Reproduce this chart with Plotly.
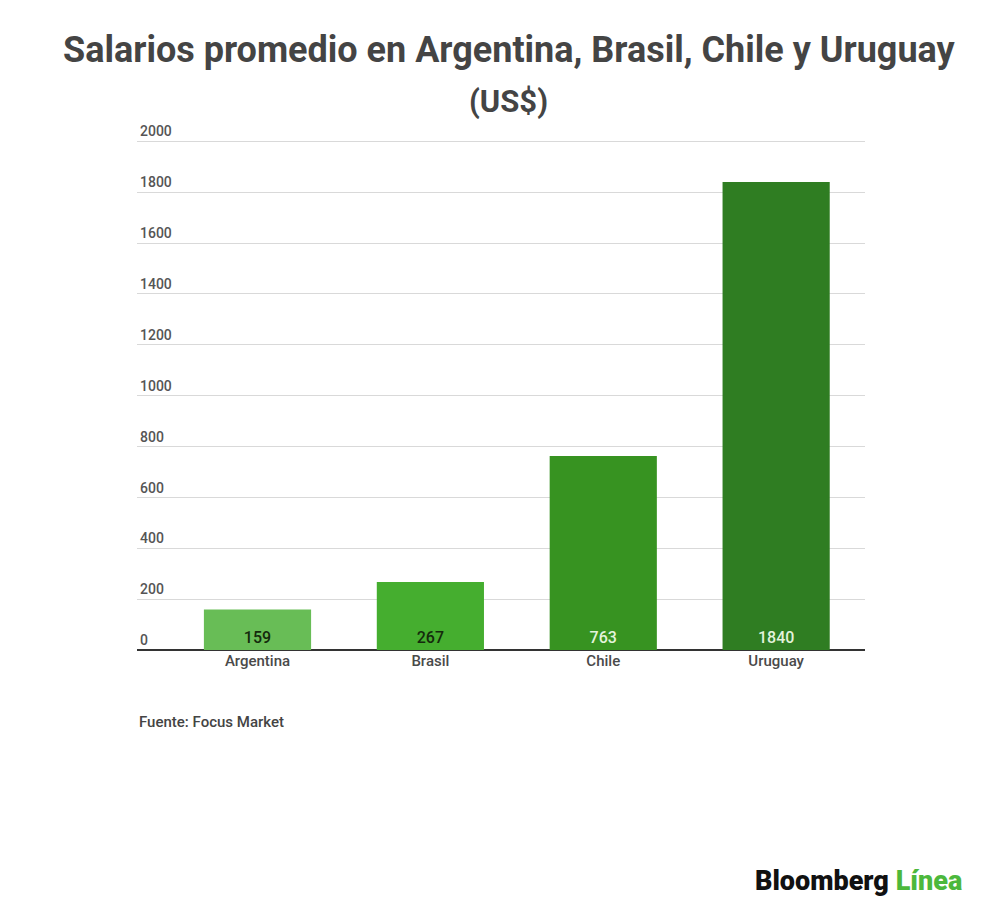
import plotly.graph_objects as go

categories = ["Argentina", "Brasil", "Chile", "Uruguay"]
values = [159, 267, 763, 1840]
bar_colors = ["#68bd56", "#45ae2f", "#379321", "#2f7d22"]
label_colors = ["#142a0c", "#142a0c", "#e3f3dc", "#e3f3dc"]
y_ticks = [0, 200, 400, 600, 800, 1000, 1200, 1400, 1600, 1800, 2000]

FONT = "Roboto, Arial, sans-serif"
OFF = 8  # page body offset

L, R, T, B = 137 - OFF, 135 + OFF, 121 - OFF, 265 + OFF
YMAX = 2080

fig = go.Figure()
fig.add_trace(go.Bar(
    x=categories, y=values,
    marker=dict(color=bar_colors, line=dict(width=0)),
    text=[str(v) for v in values],
    textposition="inside",
    insidetextanchor="start",
    textangle=0,
    textfont=dict(family=FONT, size=16, color=label_colors, weight=500),
    hoverinfo="skip",
))

fig.update_layout(
    width=1000, height=915,
    paper_bgcolor="white", plot_bgcolor="white",
    margin=dict(l=L, r=R, t=T, b=B),
    showlegend=False,
    bargap=0.38,
    font=dict(family=FONT, color="#444444"),
    xaxis=dict(
        range=[-0.697, 3.514],
        showgrid=False, showline=False, zeroline=False,
        ticks="", tickfont=dict(size=15, color="#4a4a4a", family=FONT, weight=500),
        fixedrange=True,
    ),
    yaxis=dict(
        range=[0, YMAX],
        tickvals=y_ticks,
        ticktext=[str(t) for t in y_ticks],
        ticklabelposition="inside top",
        tickfont=dict(size=14, color="#555555", family=FONT, weight=500),
        showgrid=True, gridcolor="#d9d9d9", gridwidth=1,
        zeroline=True, zerolinecolor="#333333", zerolinewidth=2,
        showline=False, ticks="",
        fixedrange=True,
    ),
)

W_plot = 1000 - L - R
H_plot = 915 - T - B
def paper_y(py):
    return (915 - B - (py - OFF)) / H_plot
def paper_x(px):
    return ((px - OFF) - L) / W_plot

fig.add_annotation(text="<b>Salarios promedio en Argentina, Brasil, Chile y Uruguay</b>",
                   x=paper_x(509), y=paper_y(50), xref="paper", yref="paper", showarrow=False,
                   font=dict(size=36, color="#444444", family=FONT),
                   xanchor="center", yanchor="middle")
fig.add_annotation(text="<b>(US$)</b>",
                   x=paper_x(508), y=paper_y(101), xref="paper", yref="paper", showarrow=False,
                   font=dict(size=31, color="#444444", family=FONT),
                   xanchor="center", yanchor="middle")
fig.add_annotation(text="Fuente: Focus Market",
                   x=paper_x(137), y=paper_y(722), xref="paper", yref="paper", showarrow=False,
                   font=dict(size=15, color="#444444", family=FONT, weight=500),
                   xanchor="left", yanchor="middle")
fig.add_annotation(text="Bloomberg <span style='color:#4cb83c'>Línea</span>",
                   x=paper_x(964), y=paper_y(881), xref="paper", yref="paper", showarrow=False,
                   font=dict(size=27, color="#111111", family=FONT, weight=900),
                   xanchor="right", yanchor="middle")

fig.write_html("out.html")
